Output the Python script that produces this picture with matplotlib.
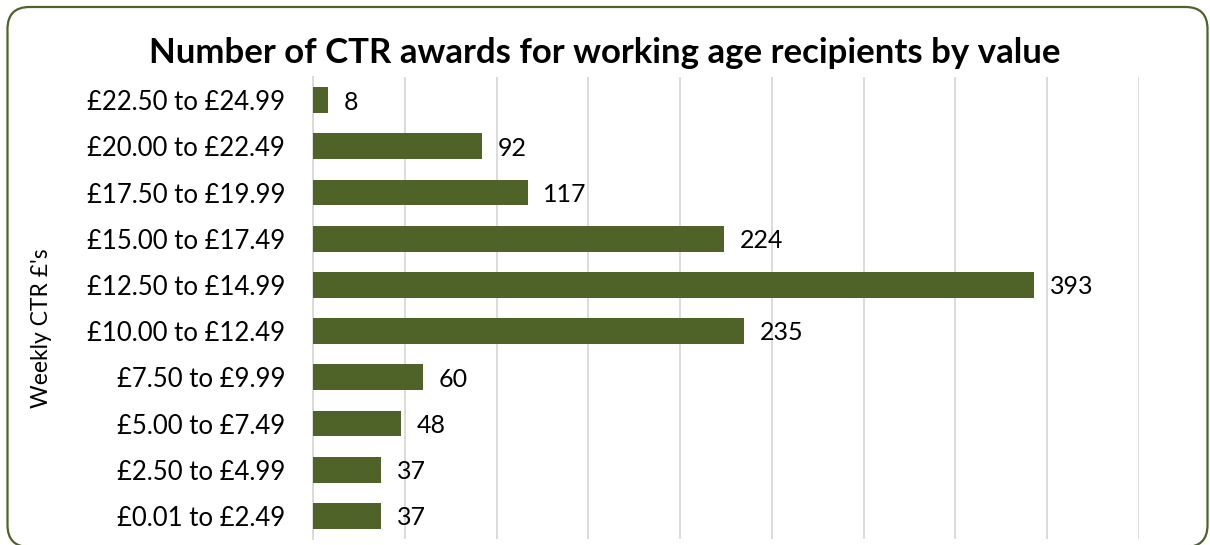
import matplotlib.pyplot as plt
from matplotlib.patches import FancyBboxPatch
from matplotlib.transforms import IdentityTransform

# CTR award bands (bottom to top) and number of working age recipients
bands = ['£0.01 to £2.49', '£2.50 to £4.99', '£5.00 to £7.49', '£7.50 to £9.99',
         '£10.00 to £12.49', '£12.50 to £14.99', '£15.00 to £17.49',
         '£17.50 to £19.99', '£20.00 to £22.49', '£22.50 to £24.99']
counts = [37, 37, 48, 60, 235, 393, 224, 117, 92, 8]

olive = '#4F6228'
grid_col = '#D9D9D9'
plt.rcParams['font.family'] = ['Lato', 'DejaVu Sans']

fig = plt.figure(figsize=(12.1, 5.45), dpi=100)
ax = fig.add_axes([0.2587, 0.011, 0.6826, 0.8476])

ypos = range(len(bands))
bars = ax.barh(ypos, counts, height=0.56, color=olive, zorder=3)

for rect, v in zip(bars, counts):
    ax.text(rect.get_width() + 8.5, rect.get_y() + rect.get_height() / 2 - 0.04,
            str(v), va='center', ha='left', fontsize=18)

ax.set_xlim(0, 450)
ax.set_ylim(-0.5, len(bands) - 0.5)
ax.set_xticks(range(0, 451, 50))
ax.xaxis.grid(True, color=grid_col, linewidth=1.3, zorder=0)
ax.tick_params(axis='x', length=0, labelbottom=False)
ax.tick_params(axis='y', length=0, pad=20, labelsize=18.5)
ax.set_yticks(list(ypos))
ax.set_yticklabels(bands)
for s in ['top', 'right', 'bottom']:
    ax.spines[s].set_visible(False)
ax.spines['left'].set_color(grid_col)
ax.spines['left'].set_linewidth(1.3)

fig.text(0.5, 0.884, 'Number of CTR awards for working age recipients by value',
         ha='center', va='baseline', fontsize=25, fontweight='bold')
fig.text(0.034, 0.398, "Weekly CTR £'s", rotation=90, ha='center', va='center',
         fontsize=16.5)

# rounded chart border
border = FancyBboxPatch((7.5, -2), 1200, 540, boxstyle='round,pad=0,rounding_size=22',
                        transform=IdentityTransform(), fill=False,
                        edgecolor=olive, linewidth=1.6)
fig.add_artist(border)

fig.savefig('out.png', dpi=100)
